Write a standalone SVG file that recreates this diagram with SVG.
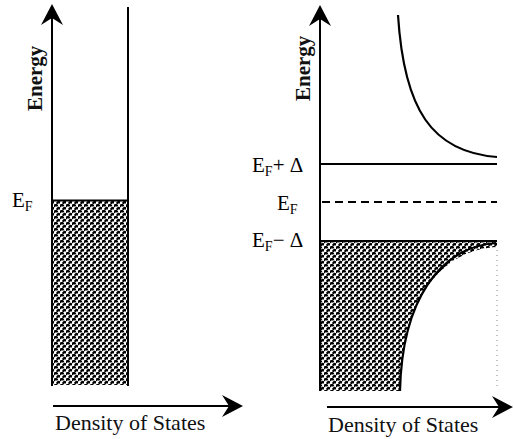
<svg xmlns="http://www.w3.org/2000/svg" width="514" height="439" viewBox="0 0 514 439">
<style>
.ax{stroke:#000;stroke-width:2;fill:none}
.cv{stroke:#000;stroke-width:2.2;fill:none}
.lbl{font-family:"Liberation Serif","Times New Roman",serif;fill:#000}
.big{font-size:21px}
.sub{font-size:14px}
.en{font-family:"Liberation Serif","Times New Roman",serif;font-size:21px;font-weight:bold;fill:#111}
.dos{font-family:"Liberation Serif","Times New Roman",serif;font-size:22px;fill:#111}
</style>
<defs>
<pattern id="stip" width="6" height="6" patternUnits="userSpaceOnUse">
<rect width="6" height="6" fill="#fff"/>
<path d="M0.4,2 Q1.6,0.2 2.9,1.5" stroke="#000" stroke-width="2.3" fill="none" stroke-linecap="round"/>
<path d="M3.4,5 Q4.6,3.2 5.9,4.5" stroke="#000" stroke-width="2.3" fill="none" stroke-linecap="round"/>
</pattern>
<path id="ah" d="M0,0 L11,21 L0,14 L-11,21 Z" fill="#000"/>
</defs>
<rect width="514" height="439" fill="#fff"/>

<g id="left-panel">
<rect x="52" y="200" width="76" height="185" fill="url(#stip)"/>
<line class="ax" x1="52" y1="8" x2="52" y2="386"/>
<use href="#ah" transform="translate(52,4)"/>
<line class="ax" x1="128" y1="7" x2="128" y2="386"/>
<line class="ax" x1="52" y1="200.5" x2="128" y2="200.5"/>
<line class="ax" x1="53" y1="406" x2="238" y2="406" stroke-width="2.4"/>
<use href="#ah" transform="translate(243,406) rotate(90)"/>
<text class="en" transform="translate(42,111) rotate(-90)">Energy</text>
<text class="lbl big" x="12" y="207">E<tspan class="sub" dy="4">F</tspan></text>
<text class="dos" x="55" y="430">Density of States</text>
</g>

<g id="right-panel">
<path d="M320,241 H497 V247 C440,250 402,300 400,391 H320 Z" fill="url(#stip)"/>
<line class="ax" x1="320" y1="9" x2="320" y2="391"/>
<use href="#ah" transform="translate(320,5)"/>
<path class="cv" d="M398,15 C404,110 432,152 497,157"/>
<line class="ax" x1="320" y1="164" x2="497" y2="164"/>
<line x1="322" y1="202" x2="497" y2="202" stroke="#000" stroke-width="2" stroke-dasharray="8,5"/>
<line class="ax" x1="320" y1="241" x2="497" y2="241"/>
<path class="cv" d="M496,243 C440,247 402,300 400,391"/>
<line x1="497" y1="250" x2="497" y2="390" stroke="#888" stroke-width="1" stroke-dasharray="1,4"/>
<line class="ax" x1="327" y1="407" x2="508" y2="407" stroke-width="2.4"/>
<use href="#ah" transform="translate(513,407) rotate(90)"/>
<text class="en" transform="translate(310,101) rotate(-90)">Energy</text>
<text class="lbl big" x="252" y="172">E<tspan class="sub" dy="4">F</tspan><tspan dy="-4">+ Δ</tspan></text>
<text class="lbl big" x="277" y="210">E<tspan class="sub" dy="4">F</tspan></text>
<text class="lbl big" x="252" y="247">E<tspan class="sub" dy="4">F</tspan><tspan dy="-4">− Δ</tspan></text>
<text class="dos" x="328" y="432">Density of States</text>
</g>
</svg>
